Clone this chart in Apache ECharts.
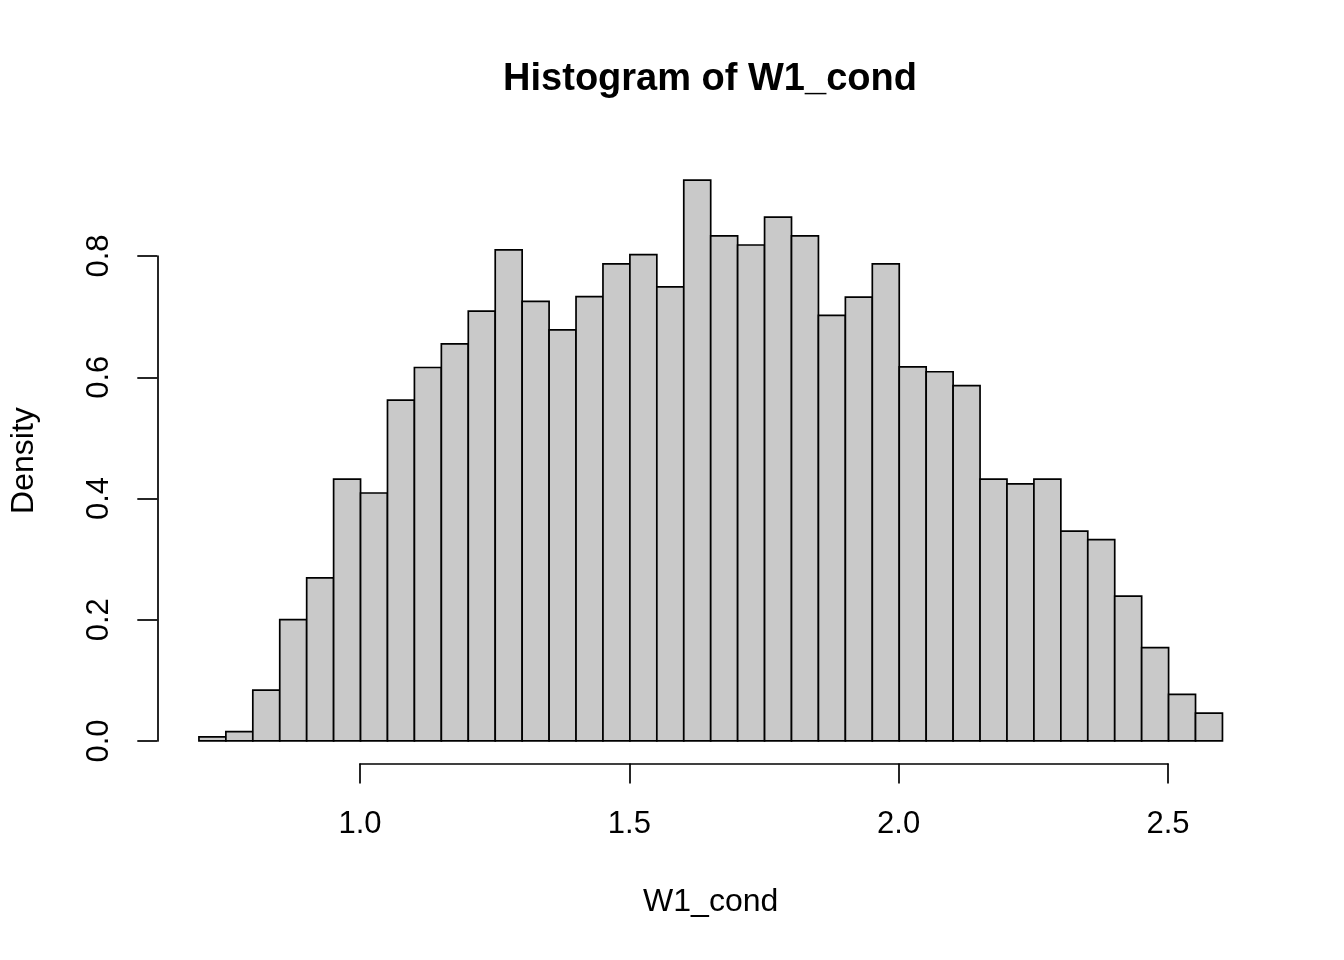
<!DOCTYPE html>
<html>
<head>
<meta charset="utf-8">
<title>Histogram of W1_cond</title>
<script src="https://cdn.jsdelivr.net/npm/echarts@6/dist/echarts.min.js"></script>
<style>
	html, body { margin: 0; padding: 0; background: #fff; }
	#main { width: 1344px; height: 960px; }
</style>
</head>
<body>
<div id="main"></div>
<script>
	/* bin edges (width 0.05) */
	var breaks = [0.70, 0.75, 0.80, 0.85, 0.90, 0.95, 1.00, 1.05, 1.10, 1.15,
		1.20, 1.25, 1.30, 1.35, 1.40, 1.45, 1.50, 1.55, 1.60, 1.65,
		1.70, 1.75, 1.80, 1.85, 1.90, 1.95, 2.00, 2.05, 2.10, 2.15,
		2.20, 2.25, 2.30, 2.35, 2.40, 2.45, 2.50, 2.55, 2.60];
	/* density per bin */
	var density = [0.0066, 0.0154, 0.084, 0.200, 0.269, 0.432, 0.409, 0.562, 0.616, 0.655,
		0.709, 0.810, 0.725, 0.678, 0.733, 0.787, 0.802, 0.749, 0.925, 0.833,
		0.818, 0.864, 0.833, 0.702, 0.732, 0.787, 0.617, 0.609, 0.586, 0.432,
		0.424, 0.432, 0.346, 0.332, 0.239, 0.154, 0.077, 0.046];
	var xTicks = [1.0, 1.5, 2.0, 2.5];
	var yTicks = [0.0, 0.2, 0.4, 0.6, 0.8];

	var fontFamily = '"Liberation Sans", Arial, Helvetica, sans-serif';
	var lineStyle = { color: '#000', width: 1.7 };

	var binData = [];
	for (var i = 0; i < density.length; i++) {
		binData.push([breaks[i], breaks[i + 1], density[i]]);
	}

	function renderBin(params, api) {
		var top = api.coord([api.value(0), api.value(2)]);
		var bottom = api.coord([api.value(1), 0]);
		return {
			type: 'rect',
			shape: {
				x: top[0],
				y: top[1],
				width: bottom[0] - top[0],
				height: bottom[1] - top[1]
			},
			style: {
				fill: '#c9c9c9',
				stroke: '#000',
				lineWidth: 1.7
			}
		};
	}

	var option = {
		backgroundColor: '#ffffff',
		animation: false,
		graphic: [{
			type: 'text',
			x: 710,
			y: 80,
			style: {
				text: 'Histogram of W1_cond',
				align: 'center',
				verticalAlign: 'middle',
				font: 'bold 38px ' + fontFamily,
				fill: '#000'
			}
		}],
		grid: [
			// plot region (R usr: data range + 4%)
			{ left: 157.3, right: 80.6, top: 157.7, bottom: 196.6 },
			// x axis, drawn only between first and last tick
			{ left: 360, right: 176, top: 700, bottom: 196.6 },
			// y axis, drawn only between first and last tick
			{ left: 157.3, width: 20, top: 256, bottom: 219 }
		],
		xAxis: [{
			gridIndex: 0,
			type: 'value',
			min: 0.624,
			max: 2.676,
			axisLine: { show: false },
			axisTick: { show: false },
			axisLabel: { show: false },
			splitLine: { show: false },
			name: 'W1_cond',
			nameLocation: 'middle',
			nameGap: 123,
			nameTextStyle: { fontSize: 32, color: '#000', fontFamily: fontFamily }
		}, {
			gridIndex: 1,
			type: 'value',
			min: xTicks[0],
			max: xTicks[xTicks.length - 1],
			interval: 0.5,
			axisLine: { show: true, lineStyle: lineStyle },
			axisTick: { show: true, length: 20, lineStyle: lineStyle },
			axisLabel: {
				margin: 46,
				fontSize: 31,
				color: '#000',
				fontFamily: fontFamily,
				formatter: function(v) { return v.toFixed(1); }
			},
			splitLine: { show: false }
		}, {
			gridIndex: 2,
			type: 'value',
			show: false
		}],
		yAxis: [{
			gridIndex: 0,
			type: 'value',
			min: -0.037,
			max: 0.962,
			axisLine: { show: false },
			axisTick: { show: false },
			axisLabel: { show: false },
			splitLine: { show: false },
			name: 'Density',
			nameLocation: 'middle',
			nameRotate: 90,
			nameGap: 118,
			nameTextStyle: { fontSize: 32, color: '#000', fontFamily: fontFamily }
		}, {
			gridIndex: 1,
			type: 'value',
			show: false
		}, {
			gridIndex: 2,
			type: 'value',
			min: yTicks[0],
			max: yTicks[yTicks.length - 1],
			interval: 0.2,
			axisLine: { show: true, lineStyle: lineStyle },
			axisTick: { show: true, length: 20, lineStyle: lineStyle },
			axisLabel: {
				rotate: 90,
				margin: 42,
				fontSize: 31,
				color: '#000',
				fontFamily: fontFamily,
				formatter: function(v) { return v.toFixed(1); }
			},
			splitLine: { show: false }
		}],
		series: [{
			name: 'W1_cond',
			type: 'custom',
			xAxisIndex: 0,
			yAxisIndex: 0,
			renderItem: renderBin,
			clip: false,
			data: binData
		}]
	};

	var chart = echarts.init(document.getElementById('main'));
	chart.setOption(option);
	window.addEventListener('resize', function() {
		chart.resize();
	});
</script>
</body>
</html>
